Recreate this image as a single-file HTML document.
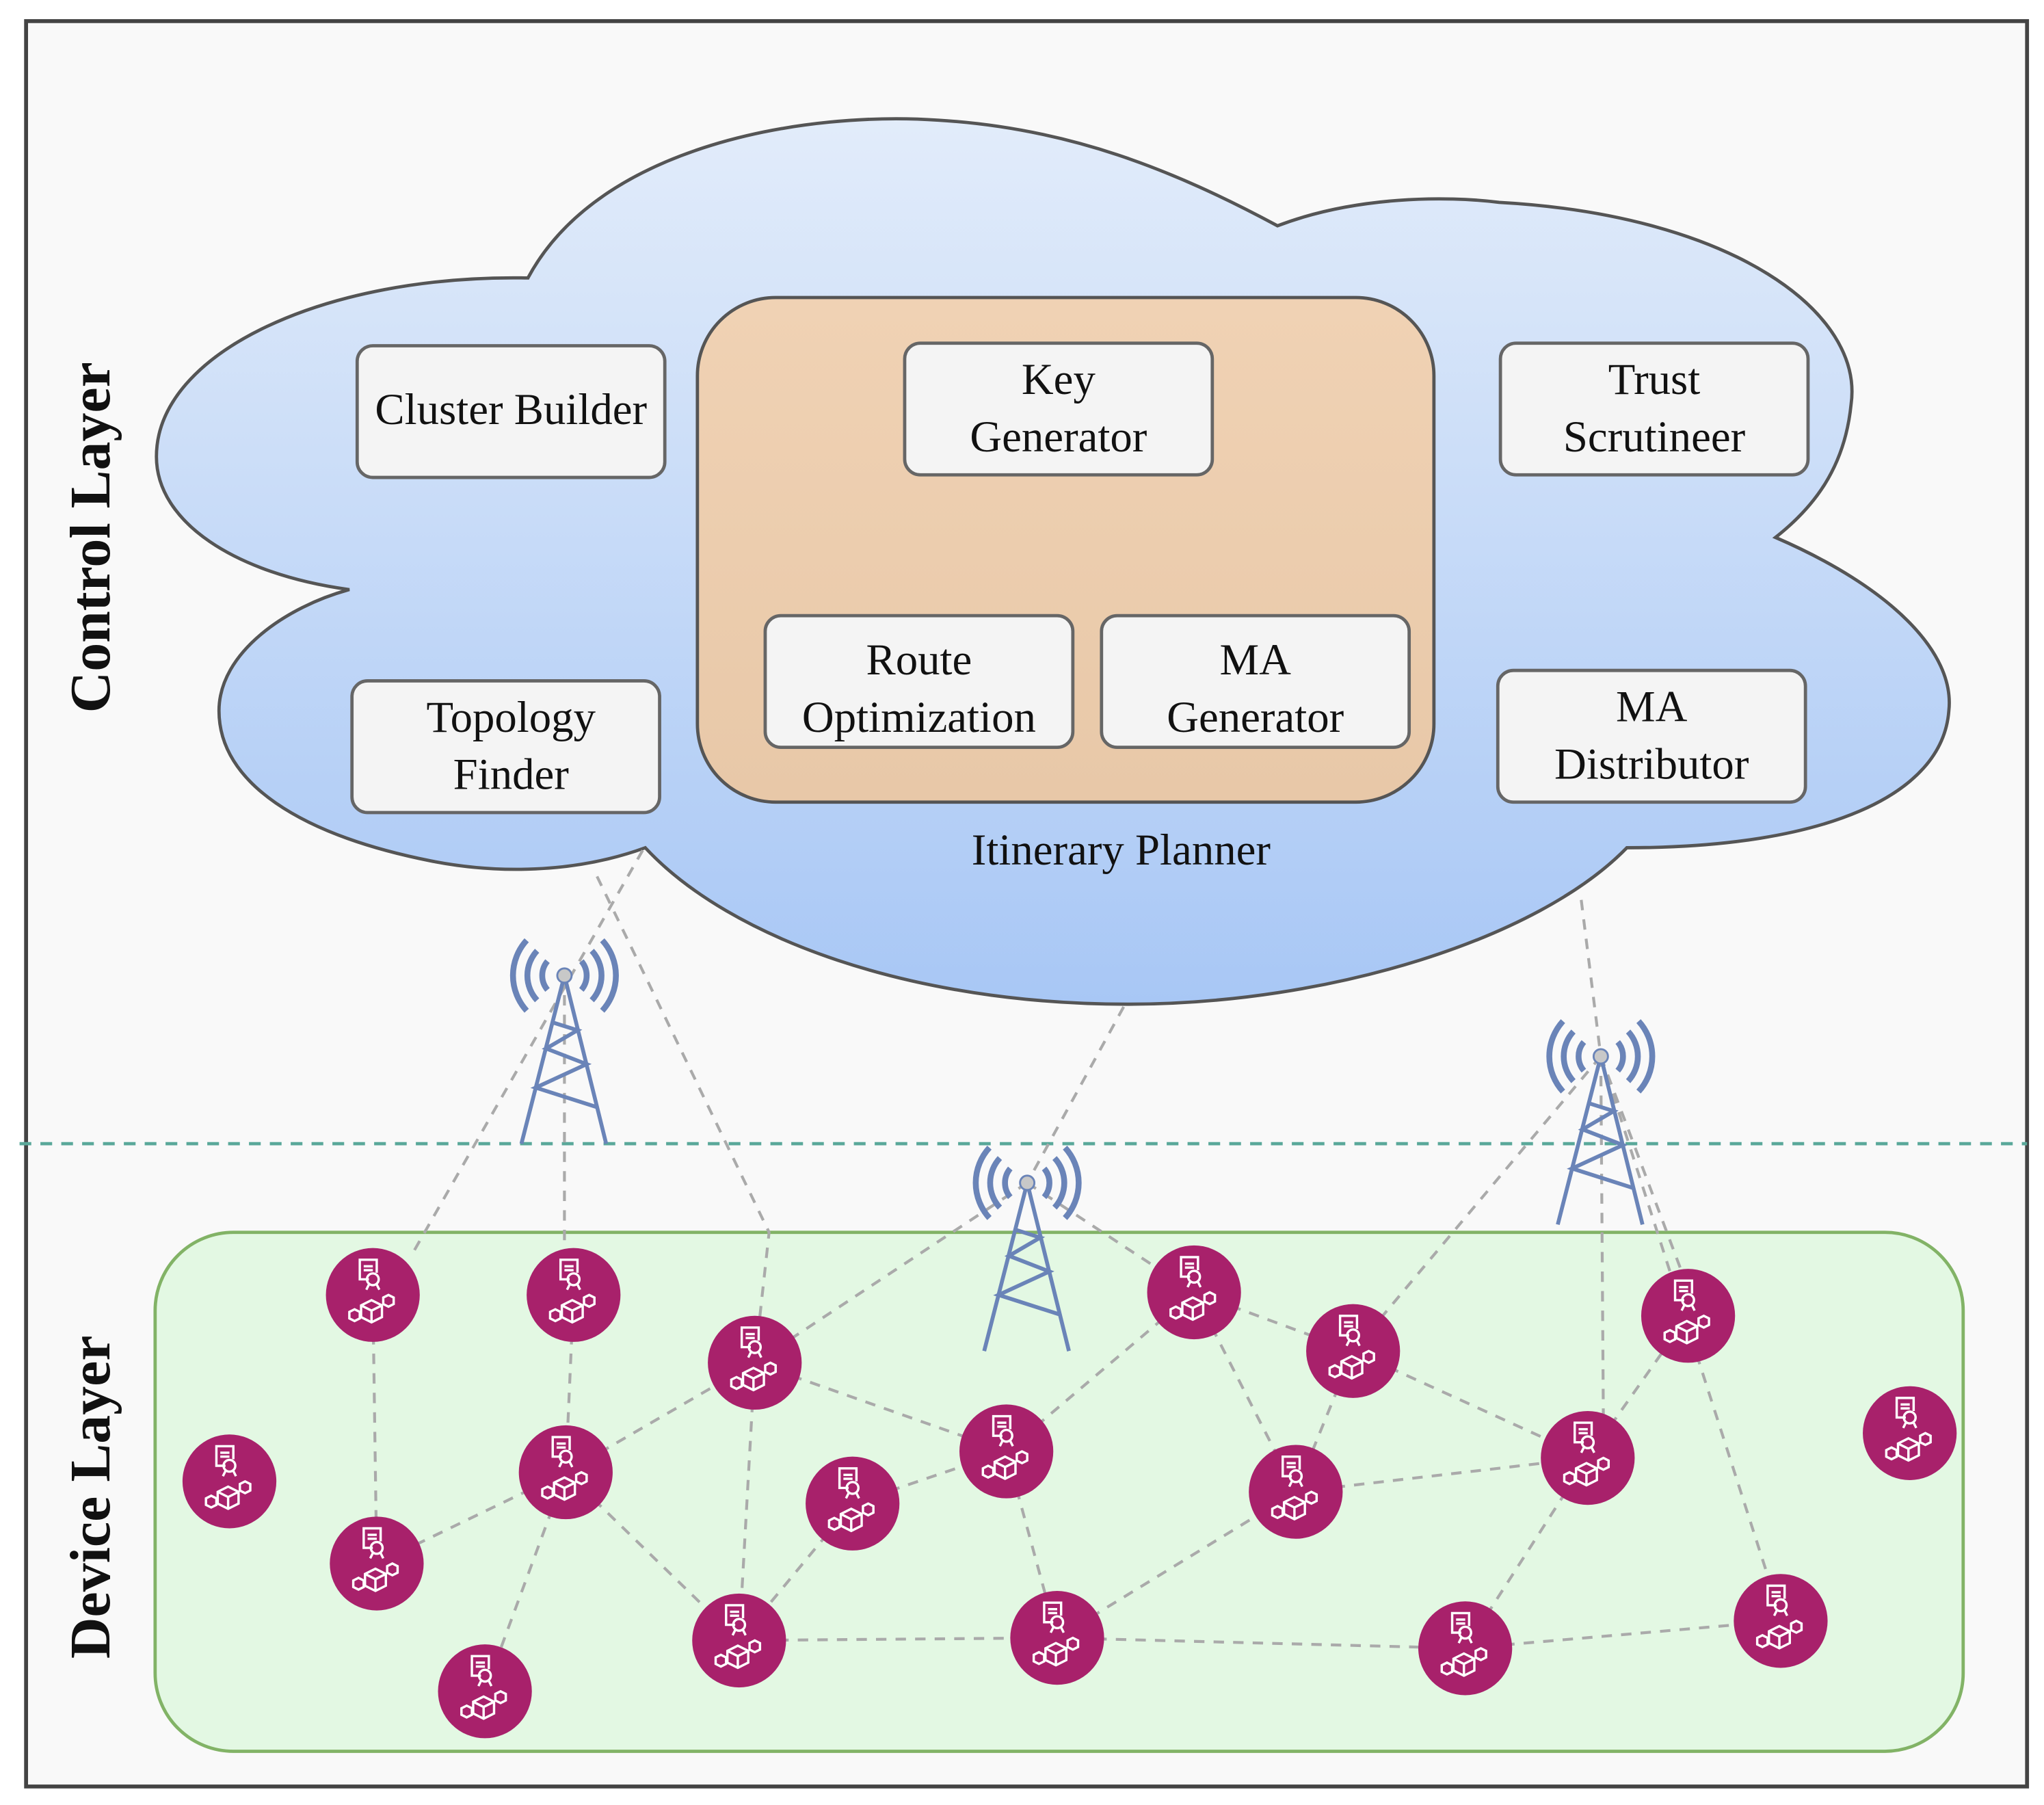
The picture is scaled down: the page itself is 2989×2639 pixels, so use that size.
<!DOCTYPE html>
<html><head><meta charset="utf-8"><style>html,body{margin:0;padding:0;background:#fff}svg{display:block}</style></head><body>
<svg xmlns="http://www.w3.org/2000/svg" width="2989" height="2639" viewBox="0 0 1568 1384">
<defs>
<linearGradient id="cg" x1="0" y1="0" x2="0" y2="1"><stop offset="0" stop-color="#e2ecfa"/><stop offset="1" stop-color="#a8c7f5"/></linearGradient>
<linearGradient id="og" x1="0" y1="0" x2="0" y2="1"><stop offset="0" stop-color="#f0d2b4"/><stop offset="1" stop-color="#e8c8a8"/></linearGradient>
<g id="node">
<circle r="36" fill="#a8216b"/>
<g fill="none" stroke="#fff" stroke-width="1.8">
<path d="M-3,-12 L-10,-12 L-10,-27 L3,-27 L3,-17"/>
<line x1="-7" y1="-22" x2="0" y2="-22"/><line x1="-7" y1="-19" x2="0" y2="-19"/>
<circle cx="0" cy="-12" r="4.5"/><path d="M-3,-8 L-5,-4 M3,-8 L5,-4"/>
<path d="M-1,4 L7,8 L7,17 L-1,21 L-9,17 L-9,8 Z M-9,8 L-1,12 L7,8 M-1,12 L-1,21"/>
<polygon points="-14,11 -10,13 -10,18 -14,20 -18,18 -18,13"/>
<polygon points="12,0 16,2 16,7 12,9 8,7 8,2"/>
</g></g>
<g id="tower" fill="none" stroke="#6a84b8" stroke-width="3">
<path d="M0,0 L-33,129 M0,0 L32,129"/>
<polyline points="-9,36 10,42 -14,56 17,68 -22,86 25,101"/>
<g stroke-width="4.5">
<path d="M-13,-11 A17,17 0 0 0 -13,11 M13,-11 A17,17 0 0 1 13,11"/>
<path d="M-21,-19 A28,28 0 0 0 -21,19 M21,-19 A28,28 0 0 1 21,19"/>
<path d="M-29,-27 A40,40 0 0 0 -29,27 M29,-27 A40,40 0 0 1 29,27"/>
</g>
<circle r="5.5" fill="#c8c8c8" stroke="#6a84b8" stroke-width="1.5"/>
</g>
</defs>
<rect x="20" y="16" width="1535" height="1354" fill="#f9f9f9" stroke="#444" stroke-width="3"/>
<path d="M405,213 C460,110 620,85 720,92 C820,98 900,130 980,173 C1040,150 1110,150 1150,155 C1330,165 1430,240 1420,310 C1415,360 1390,390 1362,412 C1450,450 1500,500 1495,545 C1490,610 1400,650 1248,650 C1180,720 1020,770 865,770 C700,770 560,720 495,650 C440,670 380,670 330,660 C230,640 168,600 168,545 C168,500 220,465 268,452 C180,440 120,400 120,350 C120,270 250,210 405,213 Z" fill="url(#cg)" stroke="#555" stroke-width="2.5"/>
<rect x="535" y="228" width="565" height="387" rx="60" fill="url(#og)" stroke="#555" stroke-width="2.5"/>
<g fill="#f4f4f4" stroke="#666" stroke-width="2.5">
<rect x="274" y="265" width="236" height="101" rx="12"/>
<rect x="694" y="263" width="236" height="101" rx="12"/>
<rect x="1151" y="263" width="236" height="101" rx="12"/>
<rect x="270" y="522" width="236" height="101" rx="12"/>
<rect x="587" y="472" width="236" height="101" rx="12"/>
<rect x="845" y="472" width="236" height="101" rx="12"/>
<rect x="1149" y="514" width="236" height="101" rx="12"/>
</g>
<g font-family="Liberation Serif, serif" font-size="34" text-anchor="middle" fill="#111">
<text x="392" y="325">Cluster Builder</text>
<text x="812" y="302">Key</text><text x="812" y="346">Generator</text>
<text x="1269" y="302">Trust</text><text x="1269" y="346">Scrutineer</text>
<text x="392" y="561">Topology</text><text x="392" y="605">Finder</text>
<text x="705" y="517">Route</text><text x="705" y="561">Optimization</text>
<text x="963" y="517">MA</text><text x="963" y="561">Generator</text>
<text x="1267" y="553">MA</text><text x="1267" y="597">Distributor</text>
<text x="860" y="663">Itinerary Planner</text>
</g>
<g font-family="Liberation Serif, serif" font-size="44" font-weight="bold" text-anchor="middle" fill="#111">
<text transform="translate(84,412) rotate(-90)">Control Layer</text>
<text transform="translate(84,1148) rotate(-90)">Device Layer</text>
</g>
<line x1="15" y1="877" x2="1555" y2="877" stroke="#5aa89a" stroke-width="2.5" stroke-dasharray="9,7"/>
<rect x="119" y="945" width="1387" height="398" rx="60" fill="#e3f8e3" stroke="#82b366" stroke-width="2.5"/>
<g stroke="#aaa" stroke-width="2.2" stroke-dasharray="8,7" fill="none">
<path d="M493,652 L316,962"/>
<path d="M458,672 L590,945 L579,1045"/>
<path d="M433,748 L433,960"/>
<path d="M862,772 L788,907"/>
<path d="M1213,690 L1228,810"/>
<path d="M788,907 L579,1045 M788,907 L916,991"/>
<path d="M1228,810 L1038,1036 M1228,810 L1230,1090 M1228,810 L1290,975 M1228,810 L1355,1205"/>
<path d="M286,993 L289,1199 M440,993 L434,1129 M434,1129 L579,1045 M434,1129 L289,1199 M434,1129 L567,1258 M434,1129 L372,1297 M579,1045 L772,1113 M579,1045 L567,1258 M772,1113 L916,991 M772,1113 L811,1256 M654,1153 L772,1113 M654,1153 L567,1258 M567,1258 L811,1256 M811,1256 L994,1144 M811,1256 L1124,1264 M1124,1264 L1366,1243 M1124,1264 L1218,1118 M916,991 L994,1144 M916,991 L1038,1036 M1038,1036 L994,1144 M1038,1036 L1218,1118 M994,1144 L1218,1118 M1218,1118 L1295,1009"/>
</g>
<use href="#tower" x="433" y="748"/>
<use href="#tower" x="788" y="907"/>
<use href="#tower" x="1228" y="810"/>
<use href="#node" x="286" y="993"/><use href="#node" x="440" y="993"/><use href="#node" x="579" y="1045"/>
<use href="#node" x="916" y="991"/><use href="#node" x="1038" y="1036"/><use href="#node" x="1295" y="1009"/>
<use href="#node" x="1465" y="1099"/><use href="#node" x="176" y="1136"/><use href="#node" x="434" y="1129"/>
<use href="#node" x="772" y="1113"/><use href="#node" x="654" y="1153"/><use href="#node" x="994" y="1144"/>
<use href="#node" x="1218" y="1118"/><use href="#node" x="289" y="1199"/><use href="#node" x="567" y="1258"/>
<use href="#node" x="811" y="1256"/><use href="#node" x="1124" y="1264"/><use href="#node" x="1366" y="1243"/>
<use href="#node" x="372" y="1297"/>
</svg>
</body></html>
